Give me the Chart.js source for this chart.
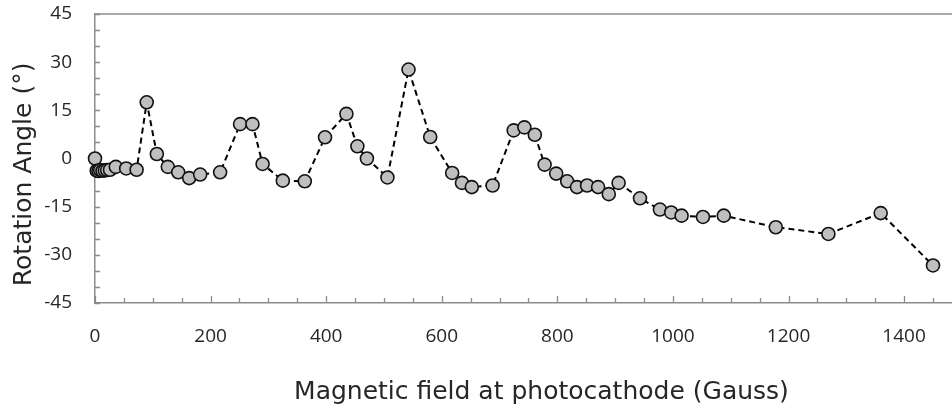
<!DOCTYPE html>
<html>
<head>
<meta charset="utf-8">
<script src="https://cdn.jsdelivr.net/npm/chart.js@4.4.1/dist/chart.umd.min.js"></script>
<style>
html,body{margin:0;padding:0;background:#fff;overflow:hidden;}
canvas{display:block;}
</style>
</head>
<body>
<canvas id="c" width="996" height="409"></canvas>
<script>
// Data
const fieldGauss = [0, 3, 6, 9, 13, 17, 21, 26, 36, 54, 72, 89.5, 107, 126, 144, 163, 182, 216.5, 251, 272.5, 290, 325, 363, 398, 435, 454, 470.5, 506, 542.5, 580, 618, 635, 652, 688, 724.5, 743, 761, 778, 798, 817, 834, 851.5, 870.5, 889, 906, 943, 977.5, 997, 1015, 1052, 1088, 1178, 1269, 1359.5, 1450];
const rotationDeg = [0, -3.8, -3.9, -3.6, -3.8, -3.7, -3.6, -3.5, -2.6, -3.1, -3.5, 17.5, 1.4, -2.6, -4.3, -6.1, -5.0, -4.3, 10.7, 10.7, -1.7, -6.9, -7.1, 6.6, 13.9, 3.8, 0, -5.9, 27.7, 6.7, -4.5, -7.6, -8.9, -8.4, 8.75, 9.7, 7.4, -1.9, -4.7, -7.1, -8.9, -8.4, -8.9, -11.1, -7.6, -12.4, -15.9, -16.8, -17.8, -18.2, -17.8, -21.4, -23.5, -17.0, -33.3];
const xTickLabels = [0, 200, 400, 600, 800, 1000, 1200, 1400];
const yTickLabels = [-45, -30, -15, 0, 15, 30, 45];
const xTitle = 'Magnetic field at photocathode (Gauss)';
const yTitle = 'Rotation Angle (\u00B0)\u00A0\u00A0\u00A0\u00A0';

const points = fieldGauss.map((x, i) => ({x: x, y: rotationDeg[i]}));
const AXIS = '#8c8c8c';
const TEXT = '#262626';

const innerTicks = {
  id: 'innerTicks',
  beforeDatasetsDraw(chart) {
    const ctx = chart.ctx, a = chart.chartArea;
    const xs = chart.scales.x, ys = chart.scales.y;
    ctx.save();
    ctx.strokeStyle = AXIS;
    ctx.lineWidth = 1.3;
    ctx.beginPath();
    xs.ticks.forEach(t => {
      const px = Math.round(xs.getPixelForValue(t.value)) + 0.5;
      const len = (t.value % 200 === 0) ? 7 : 5;
      ctx.moveTo(px, a.bottom);
      ctx.lineTo(px, a.bottom - len);
    });
    ys.ticks.forEach(t => {
      const py = Math.round(ys.getPixelForValue(t.value)) + 0.5;
      ctx.moveTo(a.left, py);
      ctx.lineTo(a.left + 5, py);
    });
    ctx.stroke();
    ctx.lineWidth = 1.5;
    ctx.beginPath();
    ctx.moveTo(a.left, a.top);
    ctx.lineTo(a.right + 2, a.top);
    ctx.stroke();
    ctx.restore();
  }
};

new Chart(document.getElementById('c'), {
  type: 'scatter',
  data: {
    datasets: [{
      data: points,
      showLine: true,
      borderColor: '#000',
      borderWidth: 2,
      borderDash: [6, 4],
      tension: 0,
      pointRadius: 6.5,
      pointHoverRadius: 6.5,
      pointBackgroundColor: '#bfbfbf',
      pointBorderColor: '#111',
      pointBorderWidth: 1.6,
      clip: false
    }]
  },
  options: {
    responsive: false,
    animation: false,
    events: [],
    layout: {padding: {top: 14, right: 1, left: 0, bottom: 0}},
    plugins: {legend: {display: false}, tooltip: {enabled: false}},
    scales: {
      x: {
        type: 'linear',
        min: 0,
        max: 1545,
        afterBuildTicks(scale) {
          const t = [];
          for (let v = 0; v <= scale.max; v += 50) t.push({value: v});
          scale.ticks = t;
        },
        afterFit(scale) {
          scale.height = 106;
          scale.paddingLeft = 0; scale.paddingRight = 0;
          scale.paddingTop = 0; scale.paddingBottom = 0;
        },
        grid: {display: false, drawTicks: false},
        border: {display: true, color: AXIS, width: 1.5},
        ticks: {
          autoSkip: false,
          maxRotation: 0,
          padding: 22,
          color: TEXT,
          font: {family: 'Open Sans', size: 19},
          callback: v => xTickLabels.includes(v) ? String(v) : ''
        },
        title: {
          display: true,
          text: xTitle,
          color: TEXT,
          font: {family: 'DejaVu Sans', size: 25},
          padding: {top: 0, bottom: 2}
        }
      },
      y: {
        type: 'linear',
        min: -45,
        max: 45,
        afterBuildTicks(scale) {
          const t = [];
          for (let v = -45; v <= 45; v += 5) t.push({value: v});
          scale.ticks = t;
        },
        afterFit(scale) {
          scale.width = 95;
          scale.paddingLeft = 0; scale.paddingRight = 0;
          scale.paddingTop = 0; scale.paddingBottom = 0;
        },
        grid: {display: false, drawTicks: false},
        border: {display: true, color: AXIS, width: 1.5},
        ticks: {
          autoSkip: false,
          padding: 23,
          color: TEXT,
          font: {family: 'Open Sans', size: 19},
          callback: v => yTickLabels.includes(v) ? String(v) : ''
        },
        title: {
          display: true,
          text: yTitle,
          color: TEXT,
          font: {family: 'DejaVu Sans', size: 25},
          padding: {top: 9, bottom: 0}
        }
      }
    }
  },
  plugins: [innerTicks]
});
</script>
</body>
</html>
